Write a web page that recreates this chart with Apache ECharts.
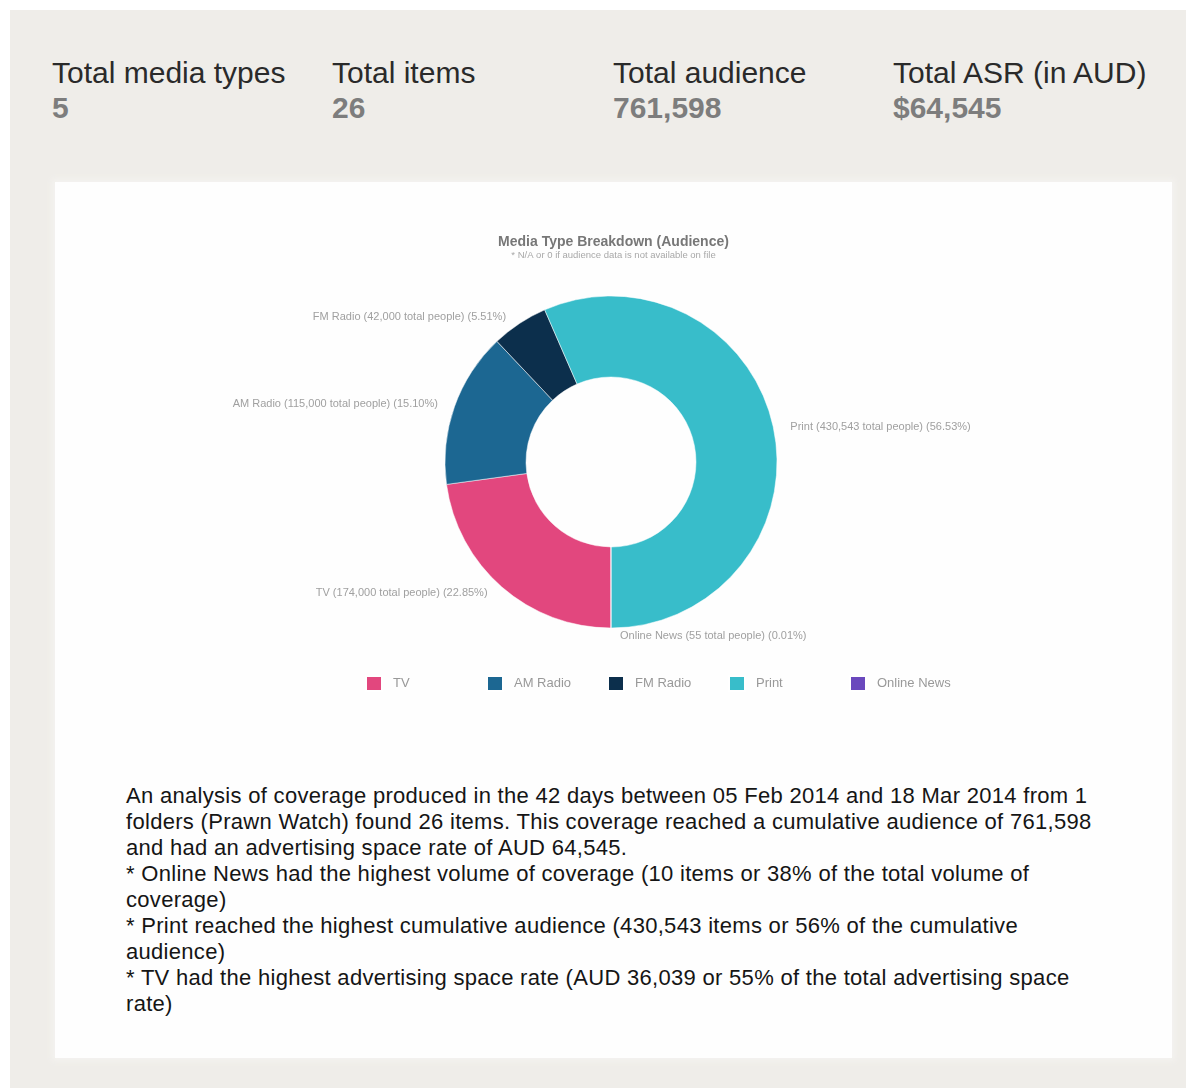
<!DOCTYPE html>
<html>
<head>
<meta charset="utf-8">
<script src="https://cdn.jsdelivr.net/npm/echarts@6/dist/echarts.min.js"></script>
<style>
  html, body { margin: 0; padding: 0; background: #ffffff; }
  body { width: 1186px; height: 1088px; position: relative; overflow: hidden; font-family: "Liberation Sans", Arial, sans-serif; }
  #bg { position: absolute; left: 10px; top: 10px; width: 1176px; height: 1078px; background: #efede9; }
  .stat { position: absolute; top: 55px; }
  .stat .k { font-size: 30px; color: #2a2a2a; line-height: 35px; white-space: nowrap; }
  .stat .v { font-size: 30px; color: #7d7d7d; font-weight: bold; line-height: 35px; }
  #panel { position: absolute; left: 55px; top: 182px; width: 1117px; height: 876px; background: #fefefe; box-shadow: 0 0 6px 3px #f4f3f0; }
  #chart { position: absolute; left: 55px; top: 182px; width: 1117px; height: 540px; }
  #summary { position: absolute; left: 126px; top: 783px; width: 1040px; font-size: 22px; letter-spacing: 0.3px; line-height: 26px; color: #151515; white-space: pre; }
</style>
</head>
<body>
<div id="bg"></div>
<div id="stats"></div>
<div id="panel"></div>
<div id="chart"></div>
<div id="summary"></div>
<script>
// ---- data ----
const statLabels = ["Total media types", "Total items", "Total audience", "Total ASR (in AUD)"];
const statValues = ["5", "26", "761,598", "$64,545"];
const categories = ["TV", "AM Radio", "FM Radio", "Print", "Online News"];
const audience = [174000, 115000, 42000, 430543, 55];
const colors = ["#e2477e", "#1c6792", "#0c2f4c", "#38bdca", "#6a48bd"];
const chartTitle = "Media Type Breakdown (Audience)";
const chartSubtitle = "* N/A or 0 if audience data is not available on file";
const summaryLines = [
  "An analysis of coverage produced in the 42 days between 05 Feb 2014 and 18 Mar 2014 from 1",
  "folders (Prawn Watch) found 26 items. This coverage reached a cumulative audience of 761,598",
  "and had an advertising space rate of AUD 64,545.",
  "* Online News had the highest volume of coverage (10 items or 38% of the total volume of",
  "coverage)",
  "* Print reached the highest cumulative audience (430,543 items or 56% of the cumulative",
  "audience)",
  "* TV had the highest advertising space rate (AUD 36,039 or 55% of the total advertising space",
  "rate)"
];

// ---- header stats ----
const statX = [52, 332, 613, 893];
const statsEl = document.getElementById('stats');
statLabels.forEach((lab, i) => {
  const d = document.createElement('div');
  d.className = 'stat';
  d.style.left = statX[i] + 'px';
  const k = document.createElement('div'); k.className = 'k'; k.textContent = lab;
  const v = document.createElement('div'); v.className = 'v'; v.textContent = statValues[i];
  d.appendChild(k); d.appendChild(v);
  statsEl.appendChild(d);
});
document.getElementById('summary').textContent = summaryLines.join('\n');

// ---- chart ----
const chart = echarts.init(document.getElementById('chart'));
chart.setOption({
  animation: false,
  color: colors,
  title: {
    text: chartTitle,
    subtext: chartSubtitle,
    left: 'center',
    top: 48,
    itemGap: 1,
    textStyle: { fontSize: 14, fontWeight: 'bold', color: '#777', fontFamily: 'Liberation Sans' },
    subtextStyle: { fontSize: 9.5, color: '#a8a8a8', fontFamily: 'Liberation Sans' }
  },
  legend: categories.map((c, i) => ({
    data: [c],
    left: 305 + i * 121,
    top: 488,
    itemWidth: 16,
    itemHeight: 15,
    icon: 'rect',
    textStyle: { fontSize: 13, color: '#999', padding: [0, 0, 0, 6], fontFamily: 'Liberation Sans' }
  })),
  series: [{
    type: 'pie',
    center: [556, 280],
    radius: [85, 166],
    startAngle: 270,
    clockwise: true,
    avoidLabelOverlap: false,
    data: categories.map((c, i) => ({ name: c, value: audience[i] })),
    itemStyle: { borderColor: '#ffffff', borderWidth: 0.5 },
    label: {
      show: true,
      position: 'outside',
      fontSize: 11,
      color: '#a0a0a0',
      fontFamily: 'Liberation Sans',
      formatter: p => p.name + ' (' + echarts.format.addCommas(p.value) + ' total people) (' + p.percent.toFixed(2) + '%)'
    },
    labelLine: { show: false, length: 8, length2: 4 }
  }]
});
</script>
</body>
</html>
